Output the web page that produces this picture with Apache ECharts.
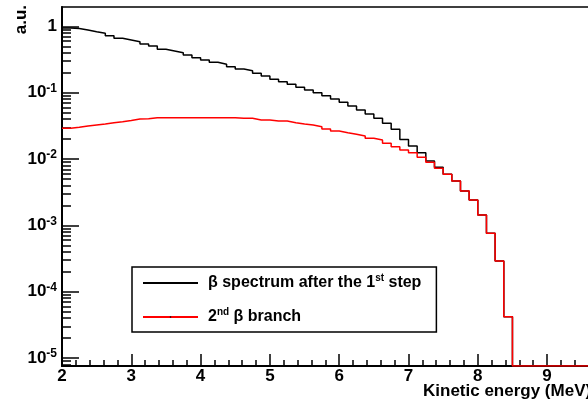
<!DOCTYPE html>
<html><head><meta charset="utf-8">
<script src="https://cdn.jsdelivr.net/npm/echarts@6/dist/echarts.min.js"></script>
<style>html,body{margin:0;padding:0;background:#fff}#c{width:588px;height:405px}</style>
</head><body><div id="c"></div>
<script>
// Bin lower edges (MeV), last entry is the upper edge of the last bin
const binEdges = [2,2.125,2.25,2.375,2.5,2.625,2.75,2.875,3,3.125,3.25,3.375,3.5,3.625,3.75,3.875,
  4,4.125,4.25,4.375,4.5,4.625,4.75,4.875,5,5.125,5.25,5.375,5.5,5.625,5.75,5.875,
  6,6.125,6.25,6.375,6.5,6.625,6.75,6.875,7,7.125,7.25,7.375,7.5,7.625,7.75,7.875,
  8,8.125,8.25,8.375,8.5,8.625,8.75,8.875,9,9.125,9.25,9.375,9.5,9.625,9.75,9.875,10];

// beta spectrum after the 1st step (a.u.)
const spectrumFirstStep = [0.946,0.930,0.882,0.832,0.787,0.724,0.661,0.623,0.588,0.543,
  0.506,0.451,0.426,0.401,0.370,0.337,0.311,0.287,0.268,0.247,
  0.228,0.215,0.196,0.179,0.159,0.1465,0.134,0.1206,0.1098,0.100,
  0.0901,0.0804,0.0716,0.0630,0.0548,0.0477,0.0411,0.0346,0.0281,0.0197,
  0.0157,0.01245,0.00933,0.00750,0.00588,0.00466,0.00329,0.00241,0.00143,0.000757,
  0.000289,0.0000418,0,0,0,0,0,0,0,0,0,0,0,0];

// 2nd beta branch (a.u.)
const secondBranch = [0.02904,0.03006,0.03146,0.03257,0.03372,0.03528,0.03653,0.0381,0.0401,0.0405,
  0.0420,0.0420,0.0420,0.0420,0.0420,0.0420,0.0420,0.0420,0.0420,0.0420,
  0.0411,0.0411,0.0388,0.0388,0.0374,0.0374,0.03528,0.0337,0.0326,0.0307,
  0.0284,0.0264,0.0249,0.0236,0.0222,0.0205,0.0193,0.01725,0.01533,0.01367,
  0.01245,0.01061,0.00892,0.00724,0.00588,0.00466,0.00329,0.00241,0.00143,0.000757,
  0.000289,0.0000418,0,0,0,0,0,0,0,0,0,0,0,0];

const seriesNames = ['β spectrum after the 1st step', '2nd β branch'];
const yMajorTicks = [1e-5, 1e-4, 1e-3, 1e-2, 1e-1, 1];
const yMinorTicks = [8e-6, 9e-6,
  2e-5, 3e-5, 4e-5, 5e-5, 6e-5, 7e-5, 8e-5, 9e-5,
  2e-4, 3e-4, 4e-4, 5e-4, 6e-4, 7e-4, 8e-4, 9e-4,
  2e-3, 3e-3, 4e-3, 5e-3, 6e-3, 7e-3, 8e-3, 9e-3,
  2e-2, 3e-2, 4e-2, 5e-2, 6e-2, 7e-2, 8e-2, 9e-2,
  0.2, 0.3, 0.4, 0.5, 0.6, 0.7, 0.8, 0.9];
const X_MIN = 2, X_MAX = 10;
const Y_MIN = 7.55e-6, Y_MAX = 1.962;

const FONT = "'Liberation Sans', Arial, Helvetica, sans-serif";

function stepData(vals) {
  const pts = [];
  for (let i = 0; i < vals.length; i++) {
    pts.push([binEdges[i], vals[i] > 0 ? vals[i] : Y_MIN]);
  }
  const last = vals[vals.length - 1];
  pts.push([binEdges[vals.length], last > 0 ? last : Y_MIN]);
  return pts;
}

const chart = echarts.init(document.getElementById('c'), null, {renderer: 'canvas'});
chart.setOption({
  animation: false,
  backgroundColor: '#fff',
  grid: {left: 62, top: 7, width: 554.4, height: 359, containLabel: false, outerBoundsMode: 'none',
    show: true, borderColor: '#000', borderWidth: 1.5, backgroundColor: 'transparent'},
  xAxis: {
    type: 'value', min: X_MIN, max: X_MAX, interval: 1,
    axisLine: {show: true, onZero: false, lineStyle: {color: '#000', width: 2}},
    axisTick: {show: true, inside: true, length: 12, lineStyle: {color: '#000', width: 1.5}},
    minorTick: {show: true, splitNumber: 5, length: 6, lineStyle: {color: '#000', width: 1.5}},
    splitLine: {show: false},
    axisLabel: {margin: 2, color: '#000', fontSize: 17, fontWeight: 'bold', fontFamily: FONT, hideOverlap: false}
  },
  yAxis: [{
    type: 'log', logBase: 10, min: Y_MIN, max: Y_MAX,
    axisLine: {show: true, lineStyle: {color: '#000', width: 2}},
    axisTick: {show: true, inside: true, length: 17, customValues: yMajorTicks, lineStyle: {color: '#000', width: 1.5}},
    splitLine: {show: false},
    axisLabel: {
      customValues: yMajorTicks, margin: 5, color: '#000', fontFamily: FONT,
      formatter: function (v) {
        const e = Math.round(Math.log10(v));
        if (e === 0) return '{b|1}';
        return '{b|10}{s|' + e + '}';
      },
      rich: {
        b: {fontSize: 17, fontWeight: 'bold', fontFamily: FONT, color: '#000', lineHeight: 20},
        s: {fontSize: 12, fontWeight: 'bold', fontFamily: FONT, color: '#000', lineHeight: 12, verticalAlign: 'top'}
      }
    }
  }, {
    type: 'log', logBase: 10, min: Y_MIN, max: Y_MAX, position: 'left',
    axisLine: {show: false},
    axisTick: {show: true, inside: true, length: 9, customValues: yMinorTicks, lineStyle: {color: '#000', width: 1.5}},
    axisLabel: {show: false},
    splitLine: {show: false}
  }],
  legend: {
    orient: 'vertical', left: 132, top: 267,
    padding: [6, 15, 5, 10], itemGap: 14, itemWidth: 55, itemHeight: 2,
    borderColor: '#000', borderWidth: 1.5, backgroundColor: '#fff',
    data: seriesNames,
    formatter: function (name) {
      return name.replace('1st', '1{sup|st}').replace('2nd', '2{sup|nd}');
    },
    textStyle: {
      fontSize: 16, fontWeight: 'bold', fontFamily: FONT, color: '#000', lineHeight: 20, padding: [0, 0, 0, 5],
      rich: {sup: {fontSize: 10, fontWeight: 'bold', fontFamily: FONT, color: '#000', lineHeight: 10, verticalAlign: 'top'}}
    }
  },
  graphic: [
    {type: 'text', left: 423, top: 383, style: {text: 'Kinetic energy (MeV)', fontSize: 17, fontWeight: 'bold', fontFamily: FONT, fill: '#000'}},
    {type: 'text', x: 21, y: 5, rotation: Math.PI / 2, style: {text: 'a.u.', fontSize: 17, fontWeight: 'bold', fontFamily: FONT, fill: '#000', align: 'right', verticalAlign: 'middle'}}
  ],
  series: [{
    name: seriesNames[0], type: 'line', step: 'end', data: stepData(spectrumFirstStep),
    symbol: 'none', showSymbol: false, clip: true, z: 2,
    itemStyle: {color: '#000'},
    lineStyle: {color: '#000', width: 1.5}
  }, {
    name: seriesNames[1], type: 'line', step: 'end', data: stepData(secondBranch),
    symbol: 'circle', symbolSize: 3, showSymbol: false, clip: true, z: 3,
    itemStyle: {color: '#000'},
    lineStyle: {color: '#ff0000', width: 1.5}
  }]
});
</script></body></html>
